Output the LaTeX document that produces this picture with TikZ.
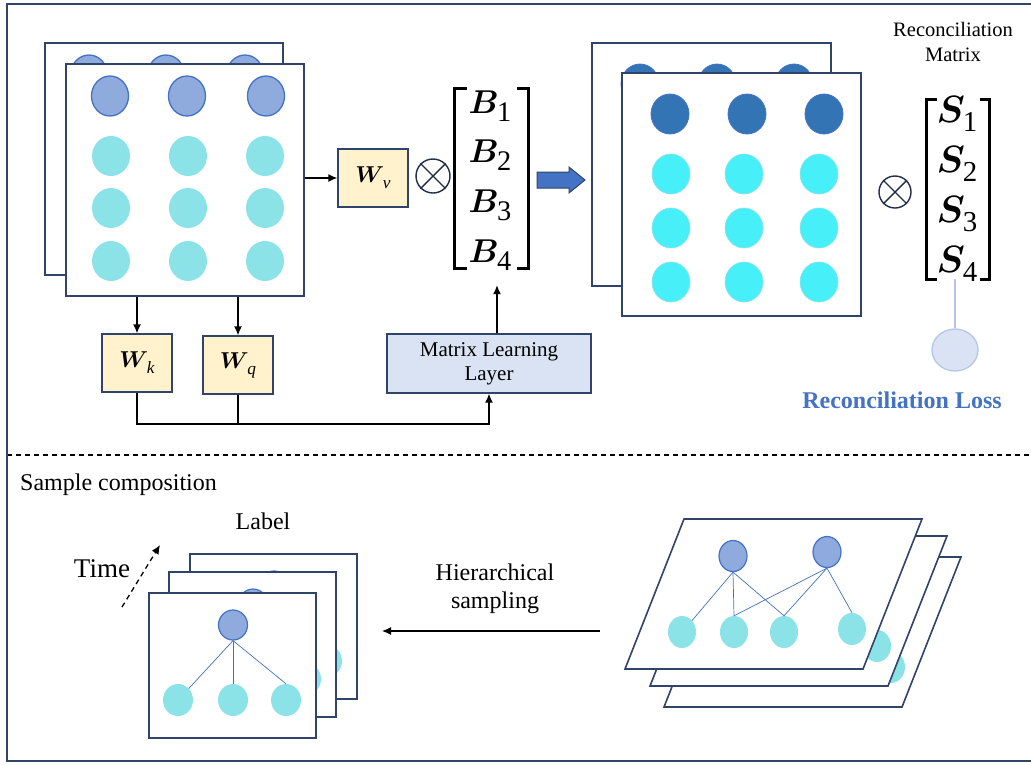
\documentclass[tikz,border=0pt]{standalone}
\usepackage{amsmath}
\usepackage{bm}
\usepackage{graphicx}
\usepackage{fontspec}
\setmainfont{Liberation Serif}
\usetikzlibrary{arrows.meta,shapes.geometric,calc}

\definecolor{navy}{HTML}{2F4468}
\definecolor{ink}{HTML}{1F2D4A}
\definecolor{nodeblue}{HTML}{8FAADC}
\definecolor{edgeblue}{HTML}{4472C4}
\definecolor{leafcyan}{HTML}{8BE3E8}
\definecolor{deepblue}{HTML}{3374B5}
\definecolor{brightcyan}{HTML}{47F0F8}
\definecolor{wfill}{HTML}{FFF2CC}
\definecolor{boxfill}{HTML}{DAE3F3}
\definecolor{lossedge}{HTML}{B4C7E7}

% bold symbol with a roomy subscript, enlarged as a whole
% #1 scale, #2 symbol, #3 subscript, #4 subscript size
\newcommand\bigsym[4]{\scalebox{#1}{$\bm{#2}\mkern-1mu
  \raisebox{-2.6pt}{\fontsize{#4}{#4}\selectfont #3}$}}

\tikzset{
  sheet/.style={draw=navy, line width=1.6pt, fill=white, inner sep=0pt},
  topnode/.style={ellipse, draw=edgeblue, line width=1.3pt, fill=nodeblue,
    minimum width=37, minimum height=40, inner sep=0pt},
  lowernode/.style={ellipse, fill=leafcyan, minimum width=38, minimum height=40, inner sep=0pt},
  deepnode/.style={ellipse, draw=edgeblue, line width=0.8pt, fill=deepblue,
    minimum width=38, minimum height=40, inner sep=0pt},
  brightnode/.style={ellipse, draw=leafcyan, line width=0.6pt, fill=brightcyan,
    minimum width=38, minimum height=40, inner sep=0pt},
  smallparent/.style={ellipse, draw=edgeblue, line width=1.2pt, fill=nodeblue,
    minimum width=29, minimum height=30, inner sep=0pt},
  smallchild/.style={ellipse, fill=leafcyan, minimum width=30, minimum height=32, inner sep=0pt},
  slantparent/.style={ellipse, draw=edgeblue, line width=1.2pt, fill=nodeblue,
    minimum width=28, minimum height=31, inner sep=0pt},
  slantchild/.style={ellipse, fill=leafcyan, minimum width=28, minimum height=32, inner sep=0pt},
  wbox/.style={draw=navy, line width=1.3pt, fill=wfill, minimum width=70,
    minimum height=58, inner sep=0pt},
  learnbox/.style={draw=navy, line width=1.3pt, fill=boxfill, minimum width=204,
    minimum height=59, inner sep=0pt, align=center, font=\fontsize{21}{24}\selectfont},
  otimes/.style={circle, draw=ink, line width=1.4pt, minimum size=34, inner sep=0pt},
  link/.style={line width=1.3pt, -{Latex[length=9pt,width=8pt]}},
  tree/.style={edgeblue, line width=0.7pt},
  bracket/.style={line width=3pt},
  entry/.style={anchor=base, inner sep=0pt},
  caption/.style={inner sep=0pt, font=\fontsize{24}{28}\selectfont}
}

% feature map sheet: a 4x3 grid of nodes
\newcommand\featuresheet[3]{%
  \begin{scope}[shift={(#2,#3)}]
    \node[sheet, minimum width=238, minimum height=232] (#1) at (185,180) {};
    \foreach \x [count=\c] in {110,187,266}
      \node[topnode] (#1-1-\c) at (\x,96) {};
    \foreach \y [count=\r from 2] in {156,208,261}
      \foreach \x [count=\c] in {111,188,265}
        \node[lowernode] (#1-\r-\c) at (\x,\y) {};
  \end{scope}}

% reconciled output sheet
\newcommand\outputsheet[3]{%
  \begin{scope}[shift={(#2,#3)}]
    \node[sheet, minimum width=239, minimum height=243] (#1) at (741.5,194.5) {};
    \foreach \x [count=\c] in {670,747,824}
      \node[deepnode] (#1-1-\c) at (\x,114) {};
    \foreach \y [count=\r from 2] in {174,228,282}
      \foreach \x [count=\c] in {671,744,819}
        \node[brightnode] (#1-\r-\c) at (\x,\y) {};
  \end{scope}}

% one label tree at a single time step
\newcommand\labelsheet[3]{%
  \begin{scope}[shift={(#2,#3)}]
    \node[sheet, minimum width=167, minimum height=145] (#1) at (232.5,665.5) {};
    \node[smallparent] (#1-p) at (233,625) {};
    \foreach \x [count=\c] in {178,233,286}
      \node[smallchild] (#1-c\c) at (\x,700) {};
    \draw[tree] (#1-p.south) -- (#1-c1.north east);
    \draw[tree] (#1-p.south) -- (#1-c2.north);
    \draw[tree] (#1-p.south) -- (#1-c3.north);
  \end{scope}}

% slanted hierarchy plane
\newcommand\sourcesheet[3]{%
  \begin{scope}[shift={(#2,#3)}]
    \draw[sheet] (684,519) -- (922,519) -- (863,669) -- (625,669) -- cycle;
    \node[slantparent] (#1-p1) at (733,556) {};
    \node[slantparent] (#1-p2) at (827,552) {};
    \node[slantchild] (#1-c1) at (682,632) {};
    \node[slantchild] (#1-c2) at (734,632) {};
    \node[slantchild] (#1-c3) at (784,632) {};
    \node[slantchild] (#1-c4) at (852,629) {};
    \draw[tree] (#1-p1.south) -- (#1-c1.north east);
    \draw[tree] (#1-p1.south) -- (#1-c2.north);
    \draw[tree] (#1-p1.south) -- (#1-c3.north);
    \draw[tree] (#1-p2.south) -- (#1-c2.north);
    \draw[tree] (#1-p2.south) -- (#1-c3.north);
    \draw[tree] (#1-p2.south) -- (#1-c4.north);
  \end{scope}}

\begin{document}
\begin{tikzpicture}[x=1pt, y=-1pt]
  \useasboundingbox (0,0) rectangle (1031,764);
  \fill[white] (0,0) rectangle (1031,764);

  % ---------- upper panel ----------
  \featuresheet{tlb}{-21}{-21}
  \featuresheet{tlf}{0}{0}

  \node[wbox] (wv) at (373,178) {\bigsym{2.3}{W}{\itshape v}{7.5}};
  \node[wbox] (wk) at (137,363) {\bigsym{2.3}{W}{\itshape k}{7.5}};
  \node[wbox] (wq) at (238,365) {\bigsym{2.3}{W}{\itshape q}{7.5}};

  \draw[link] (tlf.east |- wv.west) -- (wv.west);
  \draw[link] (wk.north |- tlf.south) -- (wk.north);
  \draw[link] (wq.north |- tlf.south) -- (wq.north);

  \node[otimes] (ot1) at (433,176) {};
  \draw[ink, line width=1.4pt] (ot1.north west) -- (ot1.south east)
                               (ot1.north east) -- (ot1.south west);

  % block matrix B
  \node[inner sep=0pt, minimum width=73, minimum height=179] (bmat) at (491.5,178.5) {};
  \draw[bracket] ($(bmat.north west)+(12,0)$) -- (bmat.north west)
                 -- (bmat.south west) -- ++(12,0);
  \draw[bracket] ($(bmat.north east)+(-11,0)$) -- (bmat.north east)
                 -- (bmat.south east) -- ++(-11,0);
  \node[entry] (b1) at (490,113) {\bigsym{3.3}{B}{1}{8.6}};
  \node[entry] (b2) at (490,162) {\bigsym{3.3}{B}{2}{8.6}};
  \node[entry] (b3) at (490,212) {\bigsym{3.3}{B}{3}{8.6}};
  \node[entry] (b4) at (490,262) {\bigsym{3.3}{B}{4}{8.6}};

  \node[learnbox] (mll) at (489,363.5) {Matrix Learning\\Layer};
  \coordinate (bus) at (0,424);
  \draw[link] (wk.south) -- (wk.south |- bus) -- (mll.south |- bus) -- (mll.south);
  \draw[line width=1.3pt] (wq.south) -- (wq.south |- bus);
  \draw[link] ($(mll.north)+(8,0)$) -- ($(mll.north |- bmat.south)+(8,17)$);

  % flow arrow to the reconciled output
  \draw[fill=edgeblue, draw=navy, line width=1pt]
    (537,172) -- (569,172) -- (569,167) -- (585,180) -- (569,193)
    -- (569,188) -- (537,188) -- cycle;

  \outputsheet{trb}{-30}{-30}
  \outputsheet{trf}{0}{0}

  \node[otimes, minimum size=32] (ot2) at (895,192) {};
  \draw[ink, line width=1.4pt] (ot2.north west) -- (ot2.south east)
                               (ot2.north east) -- (ot2.south west);

  % reconciliation matrix S
  \node[inner sep=0pt, minimum width=63, minimum height=179] (smat) at (958,189.5) {};
  \draw[bracket] ($(smat.north west)+(11,0)$) -- (smat.north west)
                 -- (smat.south west) -- ++(11,0);
  \draw[bracket] ($(smat.north east)+(-10,0)$) -- (smat.north east)
                 -- (smat.south east) -- ++(-10,0);
  \node[entry] (s1) at (957,122) {\bigsym{3.8}{S}{1}{7.6}};
  \node[entry] (s2) at (957,172) {\bigsym{3.8}{S}{2}{7.6}};
  \node[entry] (s3) at (957,222) {\bigsym{3.8}{S}{3}{7.6}};
  \node[entry] (s4) at (957,272) {\bigsym{3.8}{S}{4}{7.6}};

  \node[align=center, inner sep=0pt, font=\fontsize{20.5}{25}\selectfont]
    (rmtitle) at (953,42) {Reconciliation\\Matrix};

  \node[ellipse, draw=lossedge, line width=1.3pt, fill=boxfill, minimum width=46,
        minimum height=42, inner sep=0pt] (loss) at (955,350) {};
  \draw[lossedge, line width=1.3pt] (loss.north |- smat.south) -- (loss.north);
  \node[anchor=base, inner sep=0pt, text=edgeblue,
        font=\bfseries\fontsize{24}{28}\selectfont] (losslabel) at (902,408)
        {Reconciliation Loss};

  % ---------- divider ----------
  \draw[line width=1.3pt, dash pattern=on 5pt off 4pt] (7,455) -- (1031,455);

  % ---------- lower panel ----------
  \node[caption, anchor=base west] (sampcomp) at (20,490) {Sample composition};
  \node[caption, anchor=base] (labeltxt) at (263,529) {Label};
  \node[inner sep=0pt, anchor=base, font=\fontsize{27}{30}\selectfont] (timetxt) at (102,577) {Time};
  \coordinate (tstart) at (122,607);
  \coordinate (tend) at (160,545);
  \draw[line width=1.3pt, dash pattern=on 5pt off 4pt,
        -{Latex[length=9pt,width=8pt]}] (tstart) -- (tend);

  \labelsheet{lsb}{41}{-39}
  \labelsheet{lsm}{20}{-21}
  \labelsheet{lsf}{0}{0}

  \node[align=center, inner sep=0pt, font=\fontsize{24}{28}\selectfont]
    (hstxt) at (495,589) {Hierarchical\\sampling};
  \coordinate (hfrom) at (600,631);
  \coordinate (hto) at (382,631);
  \draw[link] (hfrom) -- (hto);

  \sourcesheet{ssb}{39}{38}
  \sourcesheet{ssm}{25}{17}
  \sourcesheet{ssf}{0}{0}

  % outer frame
  \draw[navy, line width=2pt] (7,4) rectangle (1034,761);
\end{tikzpicture}
\end{document}
